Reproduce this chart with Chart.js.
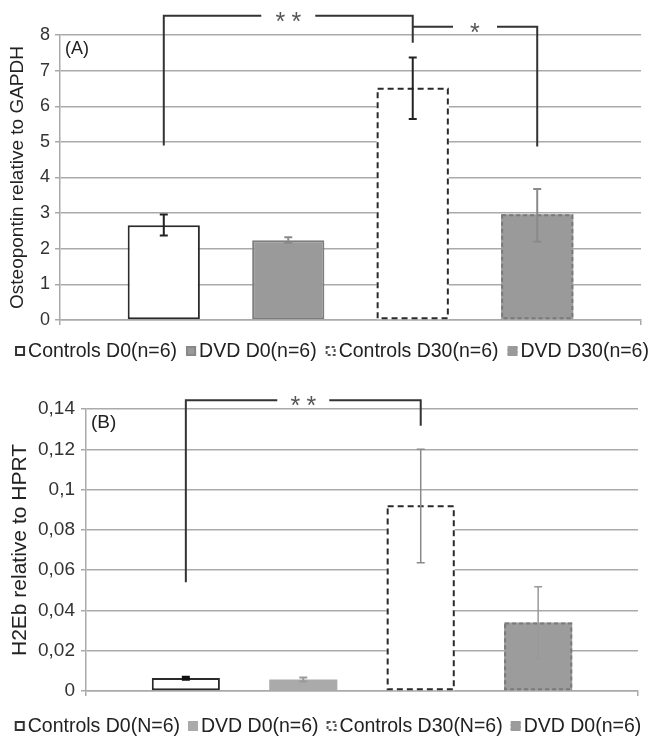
<!DOCTYPE html>
<html><head><meta charset="utf-8">
<script src="https://cdn.jsdelivr.net/npm/chart.js@4.4.1/dist/chart.umd.min.js"></script>
<style>
html,body{margin:0;padding:0;background:#fff;overflow:hidden;width:654px;height:744px;}
#wa{position:absolute;left:0;top:0;width:654px;height:372px;}
#wb{position:absolute;left:0;top:372px;width:654px;height:372px;}
</style></head><body>
<div id="wa"><canvas id="ca"></canvas></div>
<div id="wb"><canvas id="cb"></canvas></div>
<script>
// ---------- Panel A data ----------
const seriesA = ['Controls D0(n=6)', 'DVD D0(n=6)', 'Controls D30(n=6)', 'DVD D30(n=6)'];
const valuesA = [2.66, 2.24, 6.52, 2.97];
const errLowA = [2.37, 2.17, 5.64, 2.20];
const errHighA = [2.96, 2.32, 7.37, 3.68];
const ticksA = ['0', '1', '2', '3', '4', '5', '6', '7', '8'];
// significance brackets: from series, to series, left end, top, right end, label
const sigFromA = [0, 2];
const sigToA = [2, 3];
const sigLeftA = [4.9, 8.23];
const sigTopA = [8.54, 8.23];
const sigRightA = [7.78, 4.87];
const sigLabelA = ['**', '*'];

// ---------- Panel B data ----------
const seriesB = ['Controls D0(N=6)', 'DVD D0(n=6)', 'Controls D30(N=6)', 'DVD D0(n=6)'];
const valuesB = [0.0065, 0.0057, 0.0922, 0.0340];
const errLowB = [0.0058, 0.0047, 0.0637, 0.0160];
const errHighB = [0.0068, 0.0067, 0.1200, 0.0517];
const ticksB = ['0', '0,02', '0,04', '0,06', '0,08', '0,1', '0,12', '0,14'];
const sigFromB = [0];
const sigToB = [2];
const sigLeftB = [0.054];
const sigTopB = [0.1444];
const sigRightB = [0.1317];
const sigLabelB = ['**'];

const FONT = "'Liberation Sans', Arial, sans-serif";

function build(canvasId, cfg) {
  const overlay = {
    id: 'overlay',
    afterDatasetsDraw(chart) {
      const ctx = chart.ctx;
      const ys = chart.scales.y;
      ctx.save();
      // dashed borders
      cfg.series.forEach((s, i) => {
        if (!cfg.dash[i]) return;
        const el = chart.getDatasetMeta(i).data[0];
        const w = el.width;
        ctx.setLineDash(cfg.dash[i]);
        ctx.strokeStyle = cfg.stroke[i];
        ctx.lineWidth = 2;
        ctx.strokeRect(el.x - w / 2 + 1, el.y + 1, w - 2, el.base - el.y - 2);
      });
      ctx.setLineDash([]);
      // error bars
      cfg.series.forEach((s, i) => {
        const el = chart.getDatasetMeta(i).data[0];
        const x = el.x;
        const yl = ys.getPixelForValue(cfg.lo[i]);
        const yh = ys.getPixelForValue(cfg.hi[i]);
        ctx.strokeStyle = cfg.errColor[i];
        ctx.lineWidth = cfg.errWidth[i];
        ctx.beginPath();
        ctx.moveTo(x, yl); ctx.lineTo(x, yh);
        ctx.moveTo(x - 4, yl); ctx.lineTo(x + 4, yl);
        ctx.moveTo(x - 4, yh); ctx.lineTo(x + 4, yh);
        ctx.stroke();
      });
      ctx.restore();
    },
    afterDraw(chart) {
      const ctx = chart.ctx;
      const ys = chart.scales.y;
      const ca = chart.chartArea;
      ctx.save();
      // panel letter
      ctx.fillStyle = '#222';
      ctx.font = cfg.letterSize + 'px ' + FONT;
      ctx.textBaseline = 'middle';
      ctx.textAlign = 'left';
      ctx.fillText(cfg.letter, ca.left + 5, ca.top + 14);
      // brackets
      cfg.sigFrom.forEach((f, k) => {
        const x1 = chart.getDatasetMeta(f).data[0].x;
        const x2 = chart.getDatasetMeta(cfg.sigTo[k]).data[0].x;
        const yL = ys.getPixelForValue(cfg.sigLeft[k]);
        const yT = ys.getPixelForValue(cfg.sigTop[k]);
        const yR = ys.getPixelForValue(cfg.sigRight[k]);
        const mid = (x1 + x2) / 2;
        const gap = cfg.gap[k];
        ctx.strokeStyle = '#333';
        ctx.lineWidth = 2;
        ctx.beginPath();
        ctx.moveTo(x1, yL); ctx.lineTo(x1, yT); ctx.lineTo(mid - gap, yT);
        ctx.moveTo(mid + gap, yT); ctx.lineTo(x2, yT); ctx.lineTo(x2, yR);
        ctx.stroke();
        ctx.fillStyle = '#555';
        ctx.font = '25px ' + FONT;
        ctx.textAlign = 'center';
        ctx.textBaseline = 'alphabetic';
        const lab = cfg.sigLabel[k];
        const step = 16;
        for (let j = 0; j < lab.length; j++) {
          const cx = mid + (j - (lab.length - 1) / 2) * step;
          ctx.fillText(lab[j], cx, yT + 14);
        }
      });
      // legend
      ctx.font = cfg.legSize + 'px ' + FONT;
      ctx.textBaseline = 'middle';
      ctx.textAlign = 'left';
      const box = 10, boxGap = 3, itemGap = cfg.itemGap;
      const widths = cfg.series.map(s => ctx.measureText(s).width);
      let total = 0;
      widths.forEach((w, i) => { total += box + boxGap + w + (i < widths.length - 1 ? itemGap : 0); });
      let x = cfg.legCenter - total / 2;
      const ly = cfg.legY;
      cfg.series.forEach((s, i) => {
        ctx.fillStyle = cfg.fill[i];
        ctx.fillRect(x, ly - box / 2, box, box);
        ctx.setLineDash(cfg.legDash[i]);
        ctx.strokeStyle = cfg.legStroke[i];
        ctx.lineWidth = 2;
        ctx.strokeRect(x + 1, ly - box / 2 + 1, box - 2, box - 2);
        ctx.setLineDash([]);
        ctx.fillStyle = '#222';
        ctx.fillText(s, x + box + boxGap, ly + 1);
        x += box + boxGap + widths[i] + itemGap;
      });
      ctx.restore();
    }
  };

  return new Chart(document.getElementById(canvasId), {
    type: 'bar',
    data: {
      labels: [''],
      datasets: cfg.series.map((s, i) => ({
        label: s,
        data: [cfg.values[i]],
        backgroundColor: cfg.fill[i],
        borderColor: cfg.stroke[i],
        borderWidth: cfg.dash[i] ? 0 : cfg.bw[i],
        borderSkipped: false,
        barPercentage: 0.58,
        categoryPercentage: cfg.catPct
      }))
    },
    options: {
      responsive: true,
      maintainAspectRatio: false,
      animation: false,
      devicePixelRatio: 1,
      layout: { padding: cfg.padding },
      plugins: {
        tooltip: { enabled: false },
        legend: { display: false }
      },
      scales: {
        x: {
          type: 'category',
          offset: true,
          ticks: { display: false },
          grid: { display: true, drawOnChartArea: false, drawTicks: true, tickLength: 5, color: '#aaa', lineWidth: 1.5, offset: true },
          border: { display: true, color: '#aaa', width: 1.5 },
          afterFit(s) { s.height = cfg.xH; }
        },
        y: {
          min: 0,
          max: cfg.max,
          ticks: {
            stepSize: cfg.step,
            font: { size: cfg.tickSize, family: FONT },
            color: '#333',
            padding: cfg.tickPad,
            callback: (v, i) => cfg.ticks[i]
          },
          grid: { color: '#aaa', lineWidth: 1.5, tickLength: 5, drawTicks: true },
          border: { display: true, color: '#aaa', width: 1.5 },
          title: {
            display: true,
            text: cfg.title,
            font: { size: cfg.titleSize, family: FONT },
            color: '#222',
            padding: { top: 4, bottom: 4 }
          },
          afterFit(s) { s.width = cfg.yW; }
        }
      }
    },
    plugins: [overlay]
  });
}

build('ca', {
  series: seriesA, values: valuesA, lo: errLowA, hi: errHighA, ticks: ticksA,
  max: 8, step: 1, title: 'Osteopontin relative to GAPDH', letter: '(A)',
  fill: ['#ffffff', '#9a9a9a', '#ffffff', '#9a9a9a'],
  stroke: ['#2a2a2a', '#7d7d7d', '#2a2a2a', '#7a7a7a'],
  bw: [2, 2, 0, 0],
  dash: [null, null, [6, 4], [4, 3]],
  legStroke: ['#333', '#888', '#555', '#999'],
  legDash: [[], [], [3, 2], [2, 2]],
  errColor: ['#222', '#8a8a8a', '#222', '#8a8a8a'],
  errWidth: [2, 2, 2, 2],
  sigFrom: sigFromA, sigTo: sigToA, sigLeft: sigLeftA, sigTop: sigTopA, sigRight: sigRightA, sigLabel: sigLabelA,
  gap: [27, 22],
  catPct: 0.857,
  padding: { left: 2, right: 13, top: 35, bottom: 39.5 },
  xH: 12.5, yW: 58, tickPad: 5,
  tickSize: 18, titleSize: 19, letterSize: 18,
  legSize: 19.5, itemGap: 9, legCenter: 332, legY: 351
});

build('cb', {
  series: seriesB, values: valuesB, lo: errLowB, hi: errHighB, ticks: ticksB,
  max: 0.14, step: 0.02, title: 'H2Eb relative to HPRT', letter: '(B)',
  fill: ['#ffffff', '#aaaaaa', '#ffffff', '#9c9c9c'],
  stroke: ['#2a2a2a', '#aaaaaa', '#2a2a2a', '#7a7a7a'],
  bw: [2, 0, 0, 0],
  dash: [null, null, [6, 4], [4, 3]],
  legStroke: ['#333', '#aaa', '#555', '#999'],
  legDash: [[], [], [3, 2], [2, 2]],
  errColor: ['#111', '#999999', '#8a8a8a', '#999999'],
  errWidth: [3, 2, 1.5, 1.5],
  sigFrom: sigFromB, sigTo: sigToB, sigLeft: sigLeftB, sigTop: sigTopB, sigRight: sigRightB, sigLabel: sigLabelB,
  gap: [26],
  catPct: 0.851,
  padding: { left: 4, right: 16, top: 37, bottom: 40.5 },
  xH: 12.5, yW: 82, tickPad: 6,
  tickSize: 19, titleSize: 21, letterSize: 19,
  legSize: 19.5, itemGap: 8, legCenter: 328, legY: 354
});
</script>
</body></html>
